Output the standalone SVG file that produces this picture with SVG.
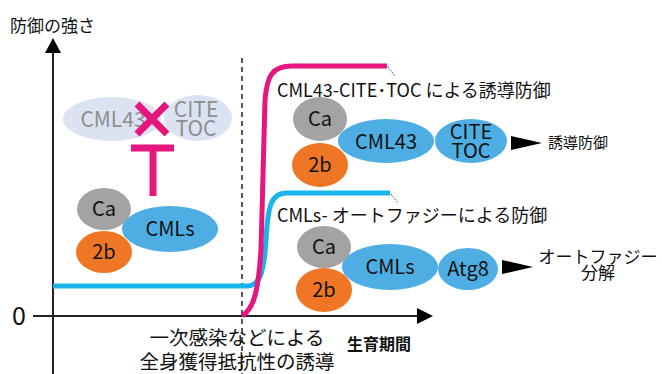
<svg xmlns="http://www.w3.org/2000/svg" width="662" height="374" viewBox="0 0 662 374">
<defs>
<style>
text{font-family:"Noto Sans CJK JP","Noto Sans",sans-serif;fill:#111}
.lbl{font-size:20px;text-anchor:middle}
.ca{fill:#a3a3a3}
.b2{fill:#ee7624}
.bl{fill:#4eaee3}
.fade{fill:#dbe3f3}
.ft{fill:#8e8e8e;font-size:21px;text-anchor:middle}
.ax{stroke:#222;stroke-width:2;fill:none}
.tip{fill:#000}
.tick{stroke:#333;stroke-width:1;stroke-dasharray:1.5 1.5;fill:none}
.mg{stroke:#e5177f;stroke-width:7;fill:none}
</style>
</defs>
<rect width="662" height="374" fill="#fff"/>

<g id="connectors">
  <line class="ax" x1="53" y1="374" x2="53" y2="50"/>
  <polygon class="tip" points="53,38 45,53 61,53"/>
  <line class="ax" x1="33" y1="316" x2="420" y2="316"/>
  <polygon class="tip" points="433,316 417,308 417,324"/>
  <line x1="242" y1="58" x2="242" y2="374" stroke="#222" stroke-width="1.5" stroke-dasharray="5 4"/>
  <path d="M53,286 H247 C260,286 264,272 266,240 C268,205 271,193 287,193 H390" fill="none" stroke="#1ab3ea" stroke-width="5"/>
  <path d="M242,316 C253,309 258,295 261,250 L265,100 C267,76 272,66 292,66 H387" fill="none" stroke="#e5177f" stroke-width="5"/>
  <path class="tick" d="M388,67 L395,76"/>
  <path class="tick" d="M391,194 L398,203"/>
  <polygon class="tip" points="511,136 542,143 511,150"/>
  <polygon class="tip" points="502,260 533,267 502,274"/>
</g>

<g id="axis-labels">
  <text x="10" y="32" font-size="17">防御の強さ</text>
  <text x="19" y="325" font-size="25" text-anchor="middle">0</text>
  <text x="237" y="345" font-size="19.5" text-anchor="middle">一次感染などによる</text>
  <text x="237" y="369" font-size="19.5" text-anchor="middle">全身獲得抵抗性の誘導</text>
  <text x="347" y="350" font-size="16" font-weight="bold">生育期間</text>
</g>

<g id="node-inhibited">
  <ellipse class="fade" cx="112" cy="119" rx="49" ry="22"/>
  <ellipse class="fade" cx="198" cy="118" rx="34" ry="23"/>
  <text class="ft" x="113" y="127">CML43</text>
  <text class="ft" x="196" y="117" font-size="18">CITE</text>
  <text class="ft" x="196" y="136" font-size="18">TOC</text>
</g>

<g id="node-left-complex">
  <ellipse class="ca" cx="104" cy="209" rx="27" ry="21"/>
  <ellipse class="b2" cx="104" cy="252" rx="28" ry="21"/>
  <ellipse class="bl" cx="170" cy="229" rx="48" ry="23"/>
  <text class="lbl" x="104" y="216">Ca</text>
  <text class="lbl" x="104" y="259">2b</text>
  <text class="lbl" x="170" y="236" font-size="21">CMLs</text>
</g>

<g id="inhibition">
  <path class="mg" d="M137,104 L167,134 M167,104 L137,134"/>
  <path class="mg" d="M131,148 H174 M153,148 V196"/>
</g>

<g id="node-top-complex">
  <text x="277" y="97" font-size="18">CML43-CITE･TOC による誘導防御</text>
  <ellipse class="ca" cx="320" cy="119" rx="27" ry="22"/>
  <ellipse class="b2" cx="320" cy="165" rx="28" ry="22"/>
  <ellipse class="bl" cx="386" cy="141" rx="48" ry="22"/>
  <ellipse class="bl" cx="471" cy="141" rx="36" ry="22"/>
  <text class="lbl" x="320" y="126">Ca</text>
  <text class="lbl" x="320" y="172">2b</text>
  <text class="lbl" x="386" y="149" font-size="22">CML43</text>
  <text class="lbl" x="471" y="139" font-size="19">CITE</text>
  <text class="lbl" x="471" y="158" font-size="19">TOC</text>
  <text x="548" y="148" font-size="15">誘導防御</text>
</g>

<g id="node-bottom-complex">
  <text x="277" y="222" font-size="18">CMLs- オートファジーによる防御</text>
  <ellipse class="ca" cx="324" cy="247" rx="27" ry="21"/>
  <ellipse class="b2" cx="324" cy="290" rx="28" ry="22"/>
  <ellipse class="bl" cx="390" cy="267" rx="48" ry="23"/>
  <ellipse class="bl" cx="468" cy="269" rx="30" ry="21"/>
  <text class="lbl" x="324" y="254">Ca</text>
  <text class="lbl" x="324" y="297">2b</text>
  <text class="lbl" x="390" y="274" font-size="21">CMLs</text>
  <text class="lbl" x="468" y="276">Atg8</text>
  <text x="598" y="263" font-size="17" text-anchor="middle">オートファジー</text>
  <text x="598" y="279" font-size="17" text-anchor="middle">分解</text>
</g>
</svg>
